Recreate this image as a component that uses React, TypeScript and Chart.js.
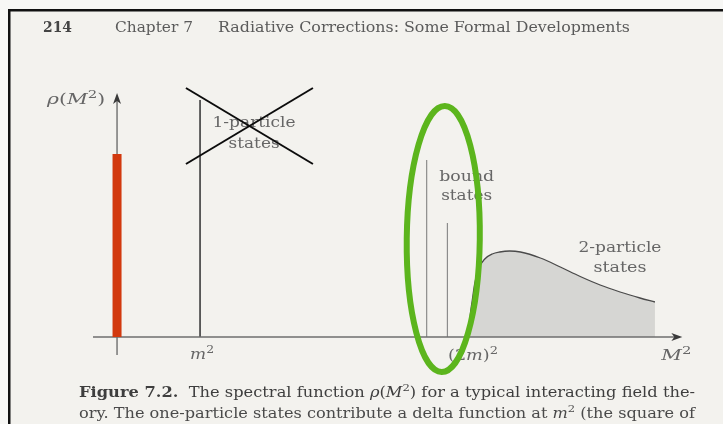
import { useEffect, useRef } from "react";
import { Chart, registerables } from "chart.js";

Chart.register(...registerables);

const W = 723;
const H = 424;

// Spectral weight along M² (measured in units of m²)
const oneParticleM2 = 1.0;
const oneParticleRho = 2.37;
const boundStateM2 = [3.73, 3.98];
const boundStateRho = [1.77, 1.14];
const continuumM2 = [4.24, 4.25, 4.28, 4.31, 4.36, 4.43, 4.52, 4.61, 4.73, 4.86, 5.1, 5.34, 5.58, 5.82, 6.06, 6.3, 6.48];
const continuumRho = [0, 0.17, 0.37, 0.54, 0.69, 0.78, 0.83, 0.85, 0.86, 0.85, 0.79, 0.7, 0.605, 0.52, 0.45, 0.39, 0.35];
const markerRho = 1.83;

// axis extents
const xAxisFrom = -0.29;
const xAxisTo = 6.81;
const yAxisFrom = -0.18;
const yAxisTo = 2.44;

// hand-drawn marks on top of the figure
const crossA = [{ x: 0.83, y: 2.49 }, { x: 2.36, y: 1.73 }];
const crossB = [{ x: 0.83, y: 1.73 }, { x: 2.36, y: 2.49 }];
const ringCenter = { x: 3.93, y: 0.98 };
const ringRadius = { x: 0.44, y: 1.33 };

type Seg = { t: string; i?: boolean; b?: boolean; sup?: boolean };

const FAMILY = '"DejaVu Serif", "Liberation Serif", serif';

function drawRich(
  ctx: CanvasRenderingContext2D,
  segs: Seg[],
  x: number,
  y: number,
  size: number,
  align: "left" | "center" | "right",
  color: string,
  width?: number
) {
  const fontOf = (s: Seg) =>
    `${s.i ? "italic " : ""}${s.b ? "bold " : ""}${s.sup ? Math.round(size * 0.7) : size}px ${FAMILY}`;
  let total = 0;
  const widths = segs.map((s) => {
    ctx.font = fontOf(s);
    const w = ctx.measureText(s.t).width;
    total += w;
    return w;
  });
  const sx = width ? width / total : 1;
  const drawn = total * sx;
  const x0 = align === "left" ? x : align === "center" ? x - drawn / 2 : x - drawn;
  ctx.save();
  ctx.translate(x0, y);
  ctx.scale(sx, 1);
  ctx.fillStyle = color;
  ctx.textAlign = "left";
  ctx.textBaseline = "alphabetic";
  let cx = 0;
  segs.forEach((s, k) => {
    ctx.font = fontOf(s);
    ctx.fillText(s.t, cx, s.sup ? -size * 0.42 : 0);
    cx += widths[k];
  });
  ctx.restore();
}

const headerNumber: Seg[] = [{ t: "214", b: true }];
const headerChapter: Seg[] = [{ t: "Chapter 7" }];
const headerTitle: Seg[] = [{ t: "Radiative Corrections: Some Formal Developments" }];

const captionLine1: Seg[] = [
  { t: "Figure 7.2.", b: true },
  { t: "  The spectral function " },
  { t: "ρ", i: true },
  { t: "(" },
  { t: "M", i: true },
  { t: "2", sup: true },
  { t: ") for a typical interacting field the-" },
];
const captionLine2: Seg[] = [
  { t: "ory. The one-particle states contribute a delta function at " },
  { t: "m", i: true },
  { t: "2", sup: true },
  { t: " (the square of" },
];

const yLabel: Seg[] = [{ t: "ρ", i: true }, { t: "(" }, { t: "M", i: true }, { t: "2", sup: true }, { t: ")" }];
const tickOne: Seg[] = [{ t: "m", i: true }, { t: "2", sup: true }];
const tickThreshold: Seg[] = [{ t: "(2" }, { t: "m", i: true }, { t: ")" }, { t: "2", sup: true }];
const tickAxis: Seg[] = [{ t: "M", i: true }, { t: "2", sup: true }];

const pagePlugin = {
  id: "page",
  beforeDraw(chart: Chart) {
    const ctx = chart.ctx;
    ctx.save();
    ctx.fillStyle = "#f7f7f5";
    ctx.fillRect(0, 0, W, H);
    ctx.fillStyle = "#f3f2ee";
    ctx.fillRect(9, 10, W - 9, H - 10);
    ctx.fillStyle = "#111";
    ctx.fillRect(8, 9, W - 8, 2.5);
    ctx.fillRect(8, 9, 2.5, H - 9);
    ctx.restore();

    drawRich(ctx, headerNumber, 43, 32, 15, "left", "#444", 29);
    drawRich(ctx, headerChapter, 115, 32, 15, "left", "#5a5a5a", 78);
    drawRich(ctx, headerTitle, 218, 32, 15, "left", "#5a5a5a", 412);

    drawRich(ctx, captionLine1, 79, 397, 14, "left", "#3e3e3e", 616);
    drawRich(ctx, captionLine2, 79, 418, 14, "left", "#4a4a4a", 616);
  },
  beforeDatasetsDraw(chart: Chart) {
    const ctx = chart.ctx;
    const xs = chart.scales.x;
    const ys = chart.scales.y;
    const px = (v: number) => xs.getPixelForValue(v);
    const py = (v: number) => ys.getPixelForValue(v);
    const gray = "#666";

    drawRich(ctx, yLabel, px(0) - 12, py(yAxisTo) + 11, 15, "right", gray, 58);

    const lx = px(oneParticleM2) + 54;
    drawRich(ctx, [{ t: "1-particle" }], lx, py(oneParticleRho) + 27, 14, "center", gray, 83);
    drawRich(ctx, [{ t: "states" }], lx, py(oneParticleRho) + 48, 14, "center", gray, 51);

    const bx = px(boundStateM2[0]) + 40;
    drawRich(ctx, [{ t: "bound" }], bx, py(boundStateRho[0]) + 21, 14, "center", gray, 55);
    drawRich(ctx, [{ t: "states" }], bx, py(boundStateRho[0]) + 40, 14, "center", gray, 51);

    const cx = px(continuumM2[continuumM2.length - 1]) - 35;
    drawRich(ctx, [{ t: "2-particle" }], cx, 252, 14, "center", gray, 83);
    drawRich(ctx, [{ t: "states" }], cx, 272, 14, "center", gray, 53);

    const base = py(0) + 22;
    drawRich(ctx, tickOne, px(oneParticleM2) + 2, base, 15, "center", gray, 24);
    drawRich(ctx, tickThreshold, px(continuumM2[0]) + 4, base + 1, 15, "center", gray, 50);
    drawRich(ctx, tickAxis, px(xAxisTo) - 6, base + 1, 15, "center", gray, 30);
  },
  afterDatasetsDraw(chart: Chart) {
    const ctx = chart.ctx;
    const xs = chart.scales.x;
    const ys = chart.scales.y;
    const px = (v: number) => xs.getPixelForValue(v);
    const py = (v: number) => ys.getPixelForValue(v);

    // axis arrowheads
    ctx.save();
    ctx.fillStyle = "#3a3a3a";
    const tx = px(xAxisTo);
    const ty = py(0);
    ctx.beginPath();
    ctx.moveTo(tx, ty);
    ctx.lineTo(tx - 11, ty - 4);
    ctx.lineTo(tx - 8, ty);
    ctx.lineTo(tx - 11, ty + 4);
    ctx.closePath();
    ctx.fill();
    const ux = px(0);
    const uy = py(yAxisTo);
    ctx.beginPath();
    ctx.moveTo(ux, uy);
    ctx.lineTo(ux - 4, uy + 11);
    ctx.lineTo(ux, uy + 8);
    ctx.lineTo(ux + 4, uy + 11);
    ctx.closePath();
    ctx.fill();
    ctx.restore();

    // ring round the bound states
    const cxp = px(ringCenter.x);
    const cyp = py(ringCenter.y);
    const rx = px(ringCenter.x + ringRadius.x) - cxp;
    const ry = cyp - py(ringCenter.y + ringRadius.y);
    ctx.save();
    ctx.strokeStyle = "#5cb51d";
    ctx.lineWidth = 6;
    ctx.beginPath();
    ctx.ellipse(cxp, cyp, rx, ry, 0.012, 0, Math.PI * 2);
    ctx.stroke();
    ctx.restore();
  },
};

function vertical(x: number, h: number) {
  return [{ x, y: 0 }, { x, y: h }];
}

export default function App() {
  const canvasRef = useRef<HTMLCanvasElement | null>(null);

  useEffect(() => {
    const canvas = canvasRef.current;
    if (!canvas) return;

    const boundData: { x: number; y: number | null }[] = [];
    boundStateM2.forEach((m, k) => {
      if (k > 0) boundData.push({ x: m, y: null });
      boundData.push({ x: m, y: 0 }, { x: m, y: boundStateRho[k] });
    });

    const chart = new Chart(canvas, {
      type: "line",
      data: {
        datasets: [
          {
            label: "cross A",
            data: crossA,
            borderColor: "#0c0c0c",
            borderWidth: 2,
            pointRadius: 0,
            order: 1,
          },
          {
            label: "cross B",
            data: crossB,
            borderColor: "#0c0c0c",
            borderWidth: 2,
            pointRadius: 0,
            order: 1,
          },
          {
            label: "marker",
            data: vertical(0, markerRho),
            borderColor: "#d2390e",
            borderWidth: 9,
            borderCapStyle: "butt",
            pointRadius: 0,
            order: 2,
          },
          {
            label: "x axis",
            data: [{ x: xAxisFrom, y: 0 }, { x: xAxisTo - 0.08, y: 0 }],
            borderColor: "#6e6e6e",
            borderWidth: 1.4,
            pointRadius: 0,
            order: 3,
          },
          {
            label: "y axis",
            data: [{ x: 0, y: yAxisFrom }, { x: 0, y: yAxisTo - 0.08 }],
            borderColor: "#6e6e6e",
            borderWidth: 1.4,
            pointRadius: 0,
            order: 3,
          },
          {
            label: "1-particle states",
            data: vertical(oneParticleM2, oneParticleRho),
            borderColor: "#3c3c3c",
            borderWidth: 1.6,
            pointRadius: 0,
            order: 4,
          },
          {
            label: "bound states",
            data: boundData,
            borderColor: "#8c8c8c",
            borderWidth: 1.2,
            pointRadius: 0,
            spanGaps: false,
            order: 4,
          },
          {
            label: "2-particle states",
            data: continuumM2.map((x, k) => ({ x, y: continuumRho[k] })),
            borderColor: "#4a4a4a",
            borderWidth: 1.3,
            backgroundColor: "#d6d6d3",
            fill: "origin",
            pointRadius: 0,
            cubicInterpolationMode: "monotone",
            order: 5,
          },
        ],
      },
      options: {
        responsive: false,
        animation: false,
        events: [],
        layout: { padding: 0 },
        scales: {
          x: { type: "linear", min: -1.41, max: 7.3, display: false },
          y: { type: "linear", min: -0.87, max: 3.37, display: false },
        },
        plugins: {
          legend: { display: false },
          tooltip: { enabled: false },
          title: { display: false },
        },
      },
      plugins: [pagePlugin],
    });

    return () => chart.destroy();
  }, []);

  return (
    <div style={{ position: "fixed", left: 0, top: 0, width: W, height: H }}>
      <canvas ref={canvasRef} width={W} height={H} style={{ display: "block", width: W, height: H }} />
    </div>
  );
}
